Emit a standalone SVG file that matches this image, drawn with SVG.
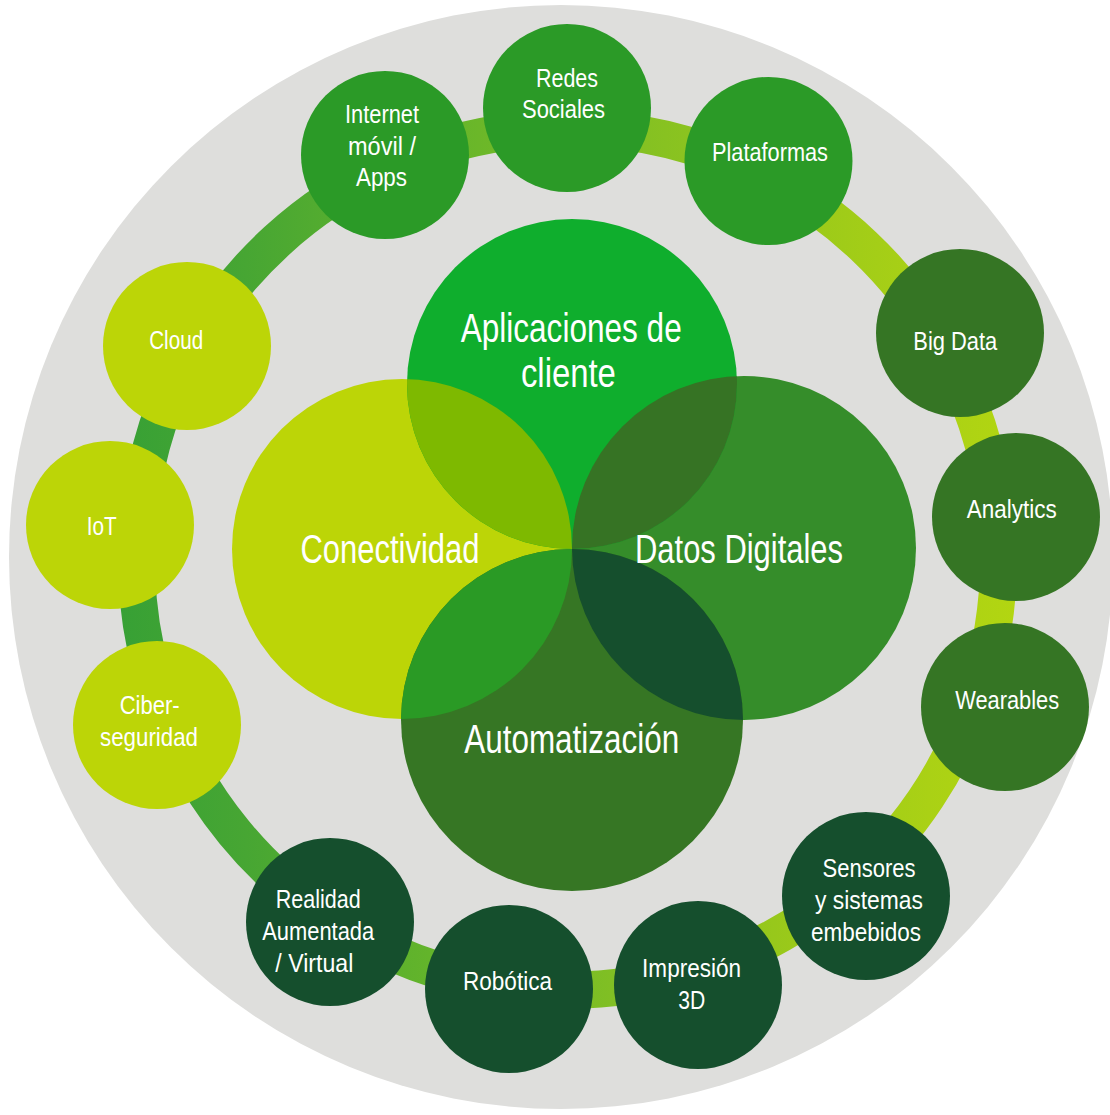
<svg xmlns="http://www.w3.org/2000/svg" width="1110" height="1115" viewBox="0 0 1110 1115">
<defs>
<style>
.s{font-family:"Liberation Sans Narrow","Liberation Sans",Arial,sans-serif;font-size:26px;fill:#ffffff;text-anchor:middle}
.b{font-family:"Liberation Sans Narrow","Liberation Sans",Arial,sans-serif;font-size:40px;fill:#ffffff;text-anchor:middle}
.ring{fill:none;stroke:url(#ringGrad);stroke-width:37}
.g1{fill:#2B9A27}
.g2{fill:#357524}
.g3{fill:#154F2D}
.g4{fill:#BCD507}
</style>
<linearGradient id="ringGrad" gradientUnits="userSpaceOnUse" x1="110" y1="0" x2="1020" y2="0">
<stop offset="0" stop-color="#36A035"/>
<stop offset="0.15" stop-color="#47A633"/>
<stop offset="0.35" stop-color="#63B42B"/>
<stop offset="0.55" stop-color="#80BF24"/>
<stop offset="0.75" stop-color="#9AC91A"/>
<stop offset="0.9" stop-color="#AAD115"/>
<stop offset="1" stop-color="#B3D611"/>
</linearGradient>
<clipPath id="clipLeft"><circle cx="402" cy="549" r="170"/></clipPath>
<clipPath id="clipRight"><circle cx="744" cy="548" r="172"/></clipPath>
</defs>

<circle id="background" cx="561" cy="557" r="552" fill="#DEDEDC"/>

<g id="connectors">
<path class="ring" d="M567.1,128 A431,431 0 0 1 761.8,174.3"/>
<path class="ring" d="M761.8,174.3 A431,431 0 0 1 941.1,344.1"/>
<path class="ring" d="M941.1,344.1 A431,431 0 0 1 996.5,517.7"/>
<path class="ring" d="M996.5,517.7 A431,431 0 0 1 976,696.5"/>
<path class="ring" d="M976,696.5 A431,431 0 0 1 853.6,881.3"/>
<path class="ring" d="M853.6,881.3 A431,431 0 0 1 693.5,971.2"/>
<path class="ring" d="M693.5,971.2 A431,431 0 0 1 509,986"/>
<path class="ring" d="M509,986 A431,431 0 0 1 330.9,919.2"/>
<path class="ring" d="M330.9,919.2 A431,431 0 0 1 167.6,719.8"/>
<path class="ring" d="M167.6,719.8 A431,431 0 0 1 137.8,525.9"/>
<path class="ring" d="M137.8,525.9 A431,431 0 0 1 192,347.4"/>
<path class="ring" d="M192,347.4 A431,431 0 0 1 390.1,166.2"/>
<path class="ring" d="M390.1,166.2 A431,431 0 0 1 567.1,128"/>
</g>

<g id="node-internet">
<circle class="g1" cx="385" cy="155" r="84"/>
<text class="s" x="382" y="122.5" textLength="74" lengthAdjust="spacingAndGlyphs">Internet</text>
<text class="s" x="382" y="155" textLength="68" lengthAdjust="spacingAndGlyphs">móvil /</text>
<text class="s" x="381.5" y="185.5" textLength="51" lengthAdjust="spacingAndGlyphs">Apps</text>
</g>
<g id="node-redes">
<circle class="g1" cx="567" cy="108" r="84"/>
<text class="s" x="567" y="86.5" textLength="62" lengthAdjust="spacingAndGlyphs">Redes</text>
<text class="s" x="563.5" y="117.5" textLength="83" lengthAdjust="spacingAndGlyphs">Sociales</text>
</g>
<g id="node-plataformas">
<circle class="g1" cx="768.5" cy="161" r="84"/>
<text class="s" x="770" y="161" textLength="116" lengthAdjust="spacingAndGlyphs">Plataformas</text>
</g>
<g id="node-bigdata">
<circle class="g2" cx="960" cy="333" r="84"/>
<text class="s" x="955.3" y="349.5" textLength="84" lengthAdjust="spacingAndGlyphs">Big Data</text>
</g>
<g id="node-analytics">
<circle class="g2" cx="1016" cy="517" r="84"/>
<text class="s" x="1011.7" y="518" textLength="90" lengthAdjust="spacingAndGlyphs">Analytics</text>
</g>
<g id="node-wearables">
<circle class="g2" cx="1005" cy="707" r="84"/>
<text class="s" x="1007.2" y="708.5" textLength="104" lengthAdjust="spacingAndGlyphs">Wearables</text>
</g>
<g id="node-sensores">
<circle class="g3" cx="866" cy="896" r="84"/>
<text class="s" x="869" y="877" textLength="93" lengthAdjust="spacingAndGlyphs">Sensores</text>
<text class="s" x="869" y="909" textLength="108" lengthAdjust="spacingAndGlyphs">y sistemas</text>
<text class="s" x="866" y="941" textLength="110" lengthAdjust="spacingAndGlyphs">embebidos</text>
</g>
<g id="node-impresion">
<circle class="g3" cx="698" cy="985" r="84"/>
<text class="s" x="691.6" y="976.5" textLength="99" lengthAdjust="spacingAndGlyphs">Impresión</text>
<text class="s" x="691.7" y="1008.5" textLength="27" lengthAdjust="spacingAndGlyphs">3D</text>
</g>
<g id="node-robotica">
<circle class="g3" cx="509" cy="989" r="84"/>
<text class="s" x="507.5" y="989.5" textLength="89" lengthAdjust="spacingAndGlyphs">Robótica</text>
</g>
<g id="node-realidad">
<circle class="g3" cx="330" cy="922" r="84"/>
<text class="s" x="318.2" y="907.5" textLength="85" lengthAdjust="spacingAndGlyphs">Realidad</text>
<text class="s" x="318.2" y="939.5" textLength="112" lengthAdjust="spacingAndGlyphs">Aumentada</text>
<text class="s" x="314.3" y="971.5" textLength="78" lengthAdjust="spacingAndGlyphs">/ Virtual</text>
</g>
<g id="node-ciberseguridad">
<circle class="g4" cx="157" cy="725" r="84"/>
<text class="s" x="149.7" y="714" textLength="60" lengthAdjust="spacingAndGlyphs">Ciber-</text>
<text class="s" x="149" y="746" textLength="98" lengthAdjust="spacingAndGlyphs">seguridad</text>
</g>
<g id="node-iot">
<circle class="g4" cx="110" cy="525" r="84"/>
<text class="s" x="101.8" y="535" textLength="30" lengthAdjust="spacingAndGlyphs">IoT</text>
</g>
<g id="node-cloud">
<circle class="g4" cx="187" cy="346" r="84"/>
<text class="s" x="176.2" y="349" textLength="54" lengthAdjust="spacingAndGlyphs">Cloud</text>
</g>

<g id="venn">
<circle id="venn-conectividad" cx="402" cy="549" r="170" fill="#BCD507"/>
<circle id="venn-datos" cx="744" cy="548" r="172" fill="#358D2A"/>
<circle id="venn-aplicaciones" cx="572" cy="384" r="165" fill="#0FAE2D"/>
<circle id="venn-automatizacion" cx="572" cy="720" r="171" fill="#367624"/>
<circle cx="572" cy="384" r="165" fill="#7EB900" clip-path="url(#clipLeft)"/>
<circle cx="572" cy="384" r="165" fill="#367324" clip-path="url(#clipRight)"/>
<circle cx="572" cy="720" r="171" fill="#2A9A25" clip-path="url(#clipLeft)"/>
<circle cx="572" cy="720" r="171" fill="#154F2D" clip-path="url(#clipRight)"/>
</g>

<g id="venn-labels">
<text class="b" x="571.2" y="342" textLength="221" lengthAdjust="spacingAndGlyphs">Aplicaciones de</text>
<text class="b" x="568.4" y="386.5" textLength="95" lengthAdjust="spacingAndGlyphs">cliente</text>
<text class="b" x="390" y="563" textLength="179" lengthAdjust="spacingAndGlyphs">Conectividad</text>
<text class="b" x="739" y="563" textLength="208" lengthAdjust="spacingAndGlyphs">Datos Digitales</text>
<text class="b" x="571.7" y="752.5" textLength="215" lengthAdjust="spacingAndGlyphs">Automatización</text>
</g>
</svg>
